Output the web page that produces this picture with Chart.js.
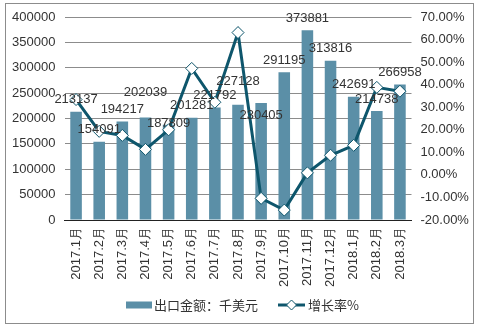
<!DOCTYPE html>
<html>
<head>
<meta charset="utf-8">
<script src="https://cdn.jsdelivr.net/npm/chart.js@4/dist/chart.umd.min.js"></script>
<style>
  html, body { margin: 0; padding: 0; background: #fff; }
  #wrap { width: 479px; height: 328px; }
</style>
</head>
<body>
<div id="wrap"><canvas id="c" width="479" height="328"></canvas></div>
<script>
'use strict';
var months = ['2017.1月', '2017.2月', '2017.3月', '2017.4月', '2017.5月', '2017.6月', '2017.7月', '2017.8月',
  '2017.9月', '2017.10月', '2017.11月', '2017.12月', '2018.1月', '2018.2月', '2018.3月'];
var exportValue = [213137, 154091, 194217, 202039, 187809, 201281, 221792, 227128,
  230405, 291195, 373881, 313816, 242691, 214738, 266958];
var growthRate = [33.4, 19.3, 17.5, 11.3, 20.0, 47.2, 32.2, 63.1,
  -10.4, -15.6, 0.9, 8.7, 13.1, 38.8, 37.1];
var leftTicks = [0, 400000, 50000];
var rightTicks = [-20, 70, 10];

var BAR = '#5b8fa7';
var LINE = '#0e566c';
var TXT = '#333333';
var FONT = '"Liberation Sans", Arial, sans-serif';
var CJK = '"Noto Sans CJK SC", sans-serif';

// label tweaks where the original placed a few labels off the usual spot
var labelNudge = { 3: -13, 4: 11, 7: -11, 8: 24 };

var frame = {
  id: 'frame',
  beforeDraw: function(chart) {
    var ctx = chart.ctx;
    ctx.save();
    ctx.fillStyle = '#fff';
    ctx.fillRect(0, 0, chart.width, chart.height);
    ctx.strokeStyle = '#8c8c8c';
    ctx.lineWidth = 1;
    ctx.strokeRect(5.5, 3.5, 468, 320);
    ctx.restore();
  }
};

var barLabels = {
  id: 'barLabels',
  afterDatasetsDraw: function(chart) {
    var ctx = chart.ctx;
    var meta = chart.getDatasetMeta(0);
    ctx.save();
    ctx.font = '13px ' + FONT;
    ctx.fillStyle = TXT;
    ctx.textAlign = 'center';
    ctx.textBaseline = 'middle';
    meta.data.forEach(function(bar, i) {
      var dy = labelNudge[i] || 0;
      ctx.fillText(String(exportValue[i]), bar.x, bar.y - 12 + dy);
    });
    ctx.restore();
  }
};

var legendBox = {
  id: 'legendBox',
  afterDraw: function(chart) {
    var ctx = chart.ctx;
    var y = 305;
    ctx.save();
    ctx.fillStyle = BAR;
    ctx.fillRect(126, y - 3.5, 26, 7);
    ctx.font = '13px ' + CJK;
    ctx.fillStyle = TXT;
    ctx.textBaseline = 'middle';
    ctx.fillText('出口金额：千美元', 154, y);
    ctx.strokeStyle = LINE;
    ctx.lineWidth = 3;
    ctx.beginPath();
    ctx.moveTo(278, y);
    ctx.lineTo(305, y);
    ctx.stroke();
    ctx.fillStyle = '#fff';
    ctx.lineWidth = 1;
    ctx.beginPath();
    ctx.moveTo(291.5, y - 5);
    ctx.lineTo(296.5, y);
    ctx.lineTo(291.5, y + 5);
    ctx.lineTo(286.5, y);
    ctx.closePath();
    ctx.fill();
    ctx.stroke();
    ctx.fillStyle = TXT;
    ctx.fillText('增长率%', 308, y);
    ctx.restore();
  }
};

new Chart(document.getElementById('c'), {
  type: 'bar',
  data: {
    labels: months,
    datasets: [{
      type: 'bar',
      label: '出口金额：千美元',
      data: exportValue,
      backgroundColor: BAR,
      yAxisID: 'y',
      categoryPercentage: 1,
      barPercentage: 0.5,
      order: 1
    }, {
      type: 'line',
      label: '增长率%',
      data: growthRate,
      borderColor: LINE,
      borderWidth: 3,
      pointStyle: 'rectRot',
      pointRadius: 6,
      pointBackgroundColor: '#fff',
      pointBorderColor: LINE,
      pointBorderWidth: 1,
      tension: 0,
      yAxisID: 'y1',
      order: 0
    }]
  },
  options: {
    responsive: false,
    animation: false,
    layout: { padding: { top: 17, bottom: 0, left: 0, right: 0 } },
    plugins: { legend: { display: false }, tooltip: { enabled: false } },
    scales: {
      x: {
        grid: { display: false, drawTicks: false },
        border: { display: true, color: '#222', width: 1 },
        ticks: { color: TXT, font: { family: FONT, size: 13 }, maxRotation: 90, minRotation: 90, padding: 7, autoSkip: false },
        afterFit: function(s) { s.height = 108; }
      },
      y: {
        position: 'left',
        min: leftTicks[0], max: leftTicks[1],
        ticks: {
          stepSize: leftTicks[2], color: TXT, font: { family: FONT, size: 13 }, padding: 9,
          callback: function(v) { return String(v); }
        },
        grid: { color: '#8c8c8c', drawTicks: false },
        border: { display: false },
        afterFit: function(s) { s.width = 64.5; }
      },
      y1: {
        position: 'right',
        min: rightTicks[0], max: rightTicks[1],
        ticks: {
          stepSize: rightTicks[2], color: TXT, font: { family: FONT, size: 13 }, padding: 9,
          callback: function(v) { return v.toFixed(2) + '%'; }
        },
        grid: { display: false, drawTicks: false },
        border: { display: false },
        afterFit: function(s) { s.width = 67.5; }
      }
    }
  },
  plugins: [frame, barLabels, legendBox]
});
</script>
</body>
</html>
